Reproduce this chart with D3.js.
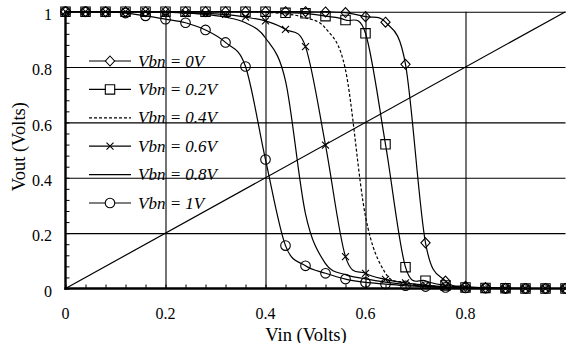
<!DOCTYPE html>
<html><head><meta charset="utf-8">
<script src="https://cdn.jsdelivr.net/npm/d3@7"></script>
<style>body{margin:0;background:#fff}</style>
</head><body>
<svg id="chart" width="566" height="343"></svg>
<script>
// Input voltage sweep (V)
const vin = [0,0.04,0.08,0.12,0.16,0.2,0.24,0.28,0.32,0.36,0.4,0.44,0.48,0.52,0.56,0.6,0.64,0.68,0.72,0.76,0.8,0.84,0.88,0.92,0.96,1.0];

// Output voltage (V) for each body bias Vbn
const vbn0  = [1,1,1,1,1,1,1,1,1,1,1,1,1,0.999,0.997,0.982,0.962,0.81,0.165,0.027,0.008,0.003,0.001,0,0,0];
const vbn02 = [1,1,1,1,1,1,1,1,1,1,1,0.996,0.994,0.984,0.97,0.922,0.521,0.077,0.028,0.011,0.004,0.002,0.001,0,0,0];
const vbn04 = [1,1,1,1,1,1,1,1,1,1,0.998,0.992,0.978,0.94,0.79,0.26,0.055,0.022,0.011,0.005,0.002,0.001,0,0,0,0];
const vbn06 = [1,1,1,1,1,0.999,0.997,0.994,0.99,0.98,0.967,0.936,0.874,0.518,0.115,0.055,0.033,0.02,0.012,0.006,0.003,0.001,0,0,0,0];
const vbn08 = [1,1,1,1,1,0.998,0.995,0.99,0.98,0.96,0.905,0.75,0.27,0.09,0.05,0.035,0.023,0.014,0.008,0.004,0.002,0.001,0,0,0,0];
const vbn1  = [1,1,0.999,0.995,0.985,0.973,0.96,0.934,0.889,0.802,0.466,0.155,0.082,0.055,0.034,0.022,0.016,0.01,0.007,0.004,0.002,0.001,0,0,0,0];

// Vout = Vin reference line
const unityIn  = [0, 1];
const unityOut = [0, 1];

const seriesNames = ["Vbn = 0V","Vbn = 0.2V","Vbn = 0.4V","Vbn = 0.6V","Vbn = 0.8V","Vbn = 1V"];
const seriesValues = [vbn0, vbn02, vbn04, vbn06, vbn08, vbn1];
const seriesMarkers = ["diamond","square","none","cross","none","circle"];
const seriesDashed = [false,false,true,false,false,false];

const xTicks = [0,0.2,0.4,0.6,0.8];
const xTickLabels = ["0","0.2","0.4","0.6","0.8"];
const yTicks = [0,0.2,0.4,0.6,0.8,1];
const yTickLabels = ["0","0.2","0.4","0.6","0.8","1"];

const FONT = '"Liberation Serif"';

const svg = d3.select("#chart");
const x = d3.scaleLinear().domain([0,1]).range([65.5,565.5]);
const y = d3.scaleLinear().domain([0,1]).range([288.5,11.7]);
const x0 = x.range()[0], x1 = x.range()[1];
const y0 = y.range()[0], y1 = y.range()[1];

// grid
svg.append("g").attr("transform",`translate(${x0},0)`)
  .call(d3.axisLeft(y).tickValues([0.2,0.4,0.6,0.8,1]).tickSize(-(x1-x0)).tickFormat(""))
  .call(g=>g.select(".domain").remove())
  .call(g=>g.selectAll("line").attr("stroke","#000").attr("stroke-width",1.1));
svg.append("g").attr("transform",`translate(0,${y0})`)
  .call(d3.axisBottom(x).tickValues([0.2,0.4,0.6,0.8]).tickSize(-(y0-y1)).tickFormat(""))
  .call(g=>g.select(".domain").remove())
  .call(g=>g.selectAll("line").attr("stroke","#000").attr("stroke-width",1.1));

// minor ticks (inside)
const minor = d3.range(0, 26).map(i => i*0.04);
svg.append("g").attr("transform",`translate(${x0},0)`)
  .call(d3.axisLeft(y).tickValues(minor).tickSize(-4).tickFormat(""))
  .call(g=>g.select(".domain").remove())
  .call(g=>g.selectAll("line").attr("stroke","#000").attr("stroke-width",1));
svg.append("g").attr("transform",`translate(0,${y0})`)
  .call(d3.axisBottom(x).tickValues(minor).tickSize(-4).tickFormat(""))
  .call(g=>g.select(".domain").remove())
  .call(g=>g.selectAll("line").attr("stroke","#000").attr("stroke-width",1));

// unity line
const line = d3.line().x(d=>x(d[0])).y(d=>y(d[1]));
svg.append("path")
  .attr("d", line(d3.zip(unityIn, unityOut)))
  .attr("fill","none").attr("stroke","#000").attr("stroke-width",1.2);

// transfer curves
const smooth = d3.line().x(d=>x(d[0])).y(d=>y(d[1])).curve(d3.curveCatmullRom.alpha(0));
seriesValues.forEach((vals,i)=>{
  svg.append("path")
    .attr("d", smooth(d3.zip(vin, vals)))
    .attr("fill","none").attr("stroke","#000").attr("stroke-width",1.2)
    .attr("stroke-dasharray", seriesDashed[i] ? "3,2" : null);
});

// axes
svg.append("line").attr("x1",x0).attr("x2",x0).attr("y1",y1-1).attr("y2",y0+1.2)
  .attr("stroke","#000").attr("stroke-width",2.4);
svg.append("line").attr("x1",x0-1.2).attr("x2",x1+1).attr("y1",y0).attr("y2",y0)
  .attr("stroke","#000").attr("stroke-width",2.4);

// markers
const circlePath = (()=>{const p=d3.path();p.arc(0,0,4.8,0,2*Math.PI);p.closePath();return p.toString();})();
const markerPath = {
  diamond: "M0,-5L4.6,0L0,5L-4.6,0Z",
  square: "M-4.7,-4.7H4.7V4.7H-4.7Z",
  circle: circlePath,
  cross: "M-3.5,-3.5L3.5,3.5M-3.5,3.5L3.5,-3.5"
};
seriesValues.forEach((vals,i)=>{
  const m = seriesMarkers[i];
  if (m === "none") return;
  svg.append("g").selectAll("path").data(d3.zip(vin, vals)).join("path")
    .attr("transform", d=>`translate(${x(d[0])},${y(d[1])})`)
    .attr("d", markerPath[m])
    .attr("fill","none").attr("stroke","#000").attr("stroke-width",1.1);
});

// tick labels (plain text elements, positioned by the scales)
const labels = svg.append("g");
yTicks.forEach((v,i)=>{
  labels.append("text").attr("x",x0-13.5).attr("y",y(v)+8.3)
    .attr("text-anchor","end").attr("font-size",16)
    .style("font-family",FONT).text(yTickLabels[i]);
});
xTicks.forEach((v,i)=>{
  labels.append("text").attr("x",x(v)).attr("y",y0+30.5)
    .attr("text-anchor","middle").attr("font-size",16)
    .style("font-family",FONT).text(xTickLabels[i]);
});

// axis titles
svg.append("text").attr("x",306).attr("y",340.5).attr("text-anchor","middle")
  .attr("font-size",18.5).style("font-family",FONT).text("Vin (Volts)");
svg.append("text").attr("transform","translate(25,146.7) rotate(-90)").attr("text-anchor","middle")
  .attr("font-size",18.5).style("font-family",FONT).text("Vout (Volts)");

// legend
const legend = svg.append("g");
seriesNames.forEach((name,i)=>{
  const ry = 61 + i*28.4;
  legend.append("line").attr("x1",89).attr("x2",131).attr("y1",ry).attr("y2",ry)
    .attr("stroke","#000").attr("stroke-width",1.2)
    .attr("stroke-dasharray", seriesDashed[i] ? "3,2" : null);
  if (seriesMarkers[i] !== "none") {
    legend.append("path").attr("transform",`translate(110,${ry})`)
      .attr("d", markerPath[seriesMarkers[i]])
      .attr("fill","#fff").attr("stroke","#000").attr("stroke-width",1.1);
  }
  legend.append("text").attr("x",138).attr("y",ry+5.5)
    .attr("font-size",17).attr("font-style","italic")
    .style("font-family",FONT).text(name);
});
</script>
</body></html>
